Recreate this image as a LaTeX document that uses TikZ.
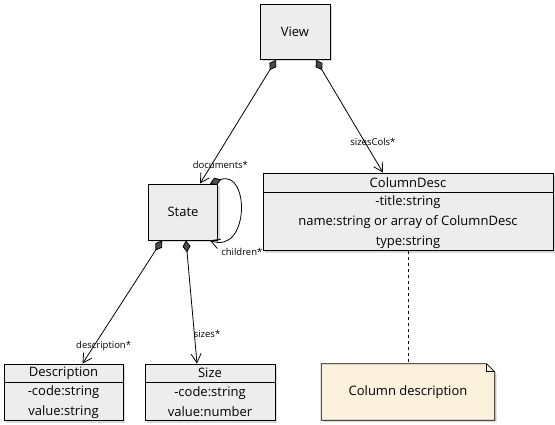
\documentclass[tikz,border=0pt]{standalone}
\usepackage{fontspec}
\setmainfont{Open Sans}
\usetikzlibrary{shapes,arrows.meta,positioning,shadows,backgrounds}
\definecolor{notefill}{HTML}{FBF1DD}

\begin{document}
\begin{tikzpicture}[
    x=1pt, y=-1pt,
    font=\fontsize{13}{20}\selectfont,
    box/.style={rectangle, draw, thick, fill=black!7, text centered, drop shadow={shadow xshift=2pt, shadow yshift=-2pt, opacity=0.3}},
    classhead/.style={box, inner sep=0pt, minimum height=19pt},
    classbody/.style={box, align=center, inner sep=0pt, anchor=north},
    notebox/.style={minimum width=173pt, minimum height=56pt},
    compo/.style={thick, {Diamond[length=12pt,width=8pt,fill=black!70]}-{Straight Barb[length=9pt,width=10pt]}},
    role/.style={font=\fontsize{9.5}{11}\selectfont, inner sep=1pt}
]
\useasboundingbox (0,0) rectangle (555,425);

% Define nodes
\node [box, minimum width=70pt, minimum height=55pt] (view) at (295,32) {View};
\node [box, minimum width=69pt, minimum height=56pt] (state) at (183,212) {State};

\node [classhead, minimum width=290pt] (colhead) at (408,182.5) {ColumnDesc};
\node [classbody, minimum width=290pt, minimum height=58pt] (colattr) at (colhead.south) {-title:string\\name:string or array of ColumnDesc\\type:string};

\node [classhead, minimum width=119pt, minimum height=18pt] (deschead) at (63.5,373) {Description};
\node [classbody, minimum width=119pt, minimum height=38pt] (descattr) at (deschead.south) {-code:string\\value:string};

\node [classhead, minimum width=130pt, minimum height=18pt] (sizehead) at (210,373) {Size};
\node [classbody, minimum width=130pt, minimum height=38pt] (sizeattr) at (sizehead.south) {-code:string\\value:number};

\node [notebox] (note) at (408,392) {Column description};
\begin{scope}[on background layer]
\draw [thick, fill=notefill, drop shadow={shadow xshift=2pt, shadow yshift=-2pt, opacity=0.3}] (note.north west) -- ([xshift=-8pt]note.north east) -- ([yshift=-8pt]note.north east) -- (note.south east) -- (note.south west) -- cycle;
\draw [thick] ([xshift=-8pt]note.north east) |- ([yshift=-8pt]note.north east);
\end{scope}

% Draw arrows
\draw [compo] ([xshift=-19pt]view.south) -- node [role, pos=0.85, xshift=9pt] {documents*} ([xshift=17pt]state.north);
\draw [compo] ([xshift=21pt]view.south) -- node [role, pos=0.73, xshift=8pt] {sizesCols*} ([xshift=-25pt]colhead.north);
\draw [compo] ([xshift=-8pt]state.north east) .. controls +(40,-15) and +(40,15) .. ([xshift=-8pt]state.south east) node [role, pos=1, anchor=north west, xshift=10pt, yshift=-6pt] {children*};
\draw [compo] ([xshift=-21pt]state.south) -- node [role, pos=0.86, xshift=10pt] {description*} ([xshift=19pt]deschead.north);
\draw [compo] ([xshift=3pt]state.south) -- node [role, pos=0.76, right, xshift=-2pt] {sizes*} ([xshift=-13pt]sizehead.north);
\draw [thick, dashed] (colattr) -- (note);

\end{tikzpicture}
\end{document}
